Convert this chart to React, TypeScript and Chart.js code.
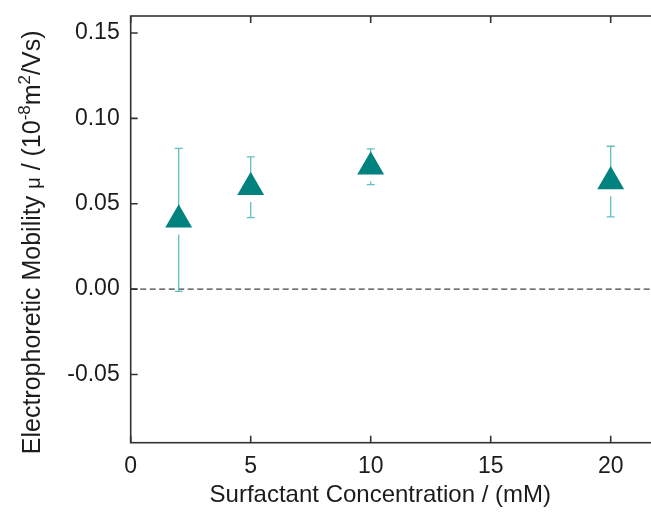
import React, { useEffect, useRef } from "react";
import { Chart, registerables } from "chart.js";

Chart.register(...registerables);

// Surfactant concentration (mM) and measured electrophoretic mobility (10^-8 m^2/Vs)
const concentrations = [2, 5, 10, 20];
const mobility = [0.0406, 0.0597, 0.0717, 0.063];
const mobilityError = [0.0419, 0.0178, 0.0105, 0.0207];

const xTickValues = [0, 5, 10, 15, 20];
const yTickValues = [-0.05, 0, 0.05, 0.1, 0.15];

const FONT_FAMILY = "'Liberation Sans', Arial, sans-serif";
const TEXT_COLOR = "#1c1c1c";
const AXIS_COLOR = "#333333";
const MARKER_COLOR = "#00827e";
const ERROR_COLOR = "#62bfbf";
const MARKER_RADIUS = 15.5;

const xTitle = "Surfactant Concentration / (mM)";
// rotated y title pieces: [text, font size, baseline shift]
const yTitleParts: [string, number, number][] = [
  ["Electrophoretic Mobility ", 25, 0],
  ["\u03bc", 20, 0],
  [" / (10", 25, 0],
  ["-8", 17, -10],
  ["m", 25, 0],
  ["2", 17, -10],
  ["/Vs)", 25, 0],
];

const framePlugin = {
  id: "frame",
  beforeDatasetsDraw(chart: any) {
    const { ctx, chartArea: a, scales } = chart;
    const y0 = scales.y.getPixelForValue(0);
    ctx.save();
    // zero reference line
    ctx.strokeStyle = "#444";
    ctx.lineWidth = 1.3;
    ctx.setLineDash([6, 3.5]);
    ctx.beginPath();
    ctx.moveTo(a.left, y0);
    ctx.lineTo(a.right, y0);
    ctx.stroke();
    ctx.setLineDash([]);

    // box and inward ticks on all four sides
    ctx.strokeStyle = AXIS_COLOR;
    ctx.lineWidth = 1.6;
    ctx.strokeRect(a.left, a.top, a.right - a.left, a.bottom - a.top);
    const tl = 7;
    ctx.beginPath();
    xTickValues.forEach((v) => {
      const x = scales.x.getPixelForValue(v);
      ctx.moveTo(x, a.bottom);
      ctx.lineTo(x, a.bottom - tl);
      ctx.moveTo(x, a.top);
      ctx.lineTo(x, a.top + tl);
    });
    yTickValues.forEach((v) => {
      const y = scales.y.getPixelForValue(v);
      ctx.moveTo(a.left, y);
      ctx.lineTo(a.left + tl, y);
      ctx.moveTo(a.right, y);
      ctx.lineTo(a.right - tl, y);
    });
    ctx.stroke();
    ctx.restore();
  },
};

const errorBarPlugin = {
  id: "errorBars",
  beforeDatasetsDraw(chart: any) {
    const { ctx, scales } = chart;
    const cap = 4;
    const gap = 7;
    ctx.save();
    ctx.strokeStyle = ERROR_COLOR;
    ctx.lineWidth = 1.3;
    concentrations.forEach((c, i) => {
      const x = scales.x.getPixelForValue(c);
      const yc = scales.y.getPixelForValue(mobility[i]);
      const yTop = scales.y.getPixelForValue(mobility[i] + mobilityError[i]);
      const yBot = scales.y.getPixelForValue(mobility[i] - mobilityError[i]);
      ctx.beginPath();
      ctx.moveTo(x, yTop);
      ctx.lineTo(x, yc);
      const lowStart = yc + MARKER_RADIUS / 2 + gap;
      if (lowStart < yBot) {
        ctx.moveTo(x, lowStart);
        ctx.lineTo(x, yBot);
      }
      ctx.moveTo(x - cap, yTop);
      ctx.lineTo(x + cap, yTop);
      ctx.moveTo(x - cap, yBot);
      ctx.lineTo(x + cap, yBot);
      ctx.stroke();
    });
    ctx.restore();
  },
};

const titlesPlugin = {
  id: "axisTitles",
  afterDraw(chart: any) {
    const { ctx, scales, chartArea } = chart;
    ctx.save();
    ctx.fillStyle = TEXT_COLOR;
    ctx.textBaseline = "alphabetic";

    // x title
    ctx.font = `24px ${FONT_FAMILY}`;
    ctx.textAlign = "center";
    ctx.fillText(xTitle, scales.x.getPixelForValue(10.4), 502);

    // y title, rotated, with superscripts
    ctx.textAlign = "left";
    let total = 0;
    yTitleParts.forEach(([t, s]) => {
      ctx.font = `${s}px ${FONT_FAMILY}`;
      total += ctx.measureText(t).width;
    });
    const cy = (chartArea.top + chartArea.bottom) / 2 + 13;
    ctx.translate(39.5, cy);
    ctx.rotate(-Math.PI / 2);
    let x = -total / 2;
    yTitleParts.forEach(([t, s, dy]) => {
      ctx.font = `${s}px ${FONT_FAMILY}`;
      ctx.fillText(t, x, dy);
      x += ctx.measureText(t).width;
    });
    ctx.restore();
  },
};

export default function App() {
  const canvasRef = useRef<HTMLCanvasElement>(null);

  useEffect(() => {
    const canvas = canvasRef.current;
    if (!canvas) return;
    const tickFont = { family: FONT_FAMILY, size: 23 };
    const chart = new Chart(canvas, {
      type: "scatter",
      data: {
        datasets: [
          {
            data: concentrations.map((c, i) => ({ x: c, y: mobility[i] })),
            pointStyle: "triangle",
            pointRadius: MARKER_RADIUS,
            pointHoverRadius: MARKER_RADIUS,
            backgroundColor: MARKER_COLOR,
            borderWidth: 0,
            showLine: false,
          },
        ],
      },
      options: {
        responsive: false,
        animation: false,
        devicePixelRatio: 1,
        events: [],
        layout: { padding: { top: 16, right: 21.3, left: 0, bottom: 0 } },
        plugins: { legend: { display: false }, tooltip: { enabled: false } },
        scales: {
          x: {
            type: "linear",
            min: 0,
            max: 22,
            afterFit: (s: any) => {
              s.height = 71.3;
              s.paddingLeft = 0;
              s.paddingRight = 0;
            },
            afterBuildTicks: (s: any) => {
              s.ticks = xTickValues.map((v) => ({ value: v }));
            },
            ticks: {
              font: tickFont,
              color: TEXT_COLOR,
              padding: 10,
              maxRotation: 0,
              autoSkip: false,
              callback: (v: any) => String(v),
            },
            grid: { display: false, drawTicks: false },
            border: { display: false },
          },
          y: {
            type: "linear",
            min: -0.09,
            max: 0.16,
            afterFit: (s: any) => {
              s.width = 130.7;
              s.paddingTop = 0;
              s.paddingBottom = 0;
            },
            afterBuildTicks: (s: any) => {
              s.ticks = yTickValues.map((v) => ({ value: v }));
            },
            ticks: {
              font: tickFont,
              color: TEXT_COLOR,
              padding: 11,
              autoSkip: false,
              callback: (v: any) => Number(v).toFixed(2),
            },
            grid: { display: false, drawTicks: false },
            border: { display: false },
          },
        },
      },
      plugins: [framePlugin, errorBarPlugin, titlesPlugin],
    });
    return () => chart.destroy();
  }, []);

  return (
    <div
      style={{
        position: "fixed",
        left: 0,
        top: 0,
        width: 651,
        height: 514,
        overflow: "hidden",
        background: "#fff",
      }}
    >
      <canvas ref={canvasRef} width={680} height={514} style={{ display: "block" }} />
    </div>
  );
}
